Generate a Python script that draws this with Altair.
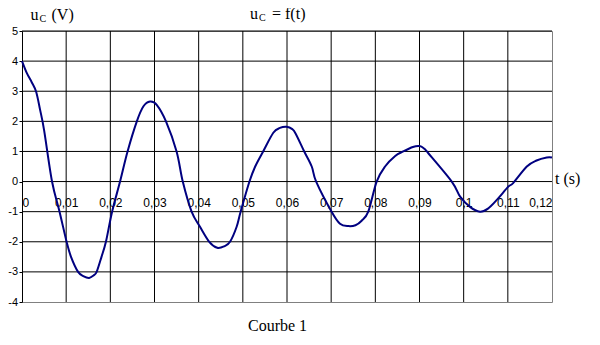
import altair as alt
import pandas as pd

# curve data
t_vals = [0, 0.0011, 0.0022, 0.0032, 0.0041, 0.0050, 0.0068, 0.0085, 0.0101, 0.0111, 0.0127,
          0.0140, 0.0152, 0.0162, 0.0169, 0.0180, 0.0190, 0.0204, 0.0222, 0.0239, 0.0260,
          0.0275, 0.0290, 0.0305, 0.0326, 0.0350, 0.0364, 0.0384, 0.0403, 0.0424, 0.0442,
          0.0458, 0.0471, 0.0486, 0.0495, 0.0515, 0.0528, 0.0546, 0.0569, 0.0584, 0.0599,
          0.0612, 0.0620, 0.0639, 0.0656, 0.0666, 0.0701, 0.0720, 0.0739, 0.0755, 0.0769,
          0.0784, 0.0803, 0.0822, 0.0845, 0.0863, 0.0885, 0.0900, 0.0910, 0.0920, 0.0973,
          0.0992, 0.1015, 0.1037, 0.1055, 0.1075, 0.1101, 0.1112, 0.1143, 0.1165, 0.1188,
          0.1200]
u_vals = [4.0, 3.6, 3.3, 2.98, 2.38, 1.71, 0.0, -1.0, -2.0, -2.5, -3.0,
          -3.15, -3.2, -3.12, -3.0, -2.5, -2.0, -1.0, 0.0, 1.0, 2.0,
          2.5, 2.66, 2.55, 2.0, 1.0, 0.0, -1.0, -1.5, -2.0, -2.2,
          -2.15, -2.0, -1.5, -1.0, 0.0, 0.5, 1.0, 1.62, 1.78, 1.82,
          1.74, 1.58, 1.0, 0.5, 0.0, -1.0, -1.4, -1.48, -1.45, -1.3,
          -1.0, 0.0, 0.5, 0.85, 1.0, 1.15, 1.18, 1.1, 0.94, 0.0,
          -0.5, -0.85, -1.0, -0.9, -0.61, -0.17, -0.05, 0.5, 0.7, 0.8,
          0.8]

x_ticks = [0, 0.01, 0.02, 0.03, 0.04, 0.05, 0.06, 0.07, 0.08, 0.09, 0.1, 0.11, 0.12]
y_ticks = [-4, -3, -2, -1, 0, 1, 2, 3, 4, 5]
x_grid = [0.01, 0.02, 0.03, 0.04, 0.05, 0.06, 0.07, 0.08, 0.09, 0.1, 0.11]
y_grid = [-3, -2, -1, 0, 1, 2, 3, 4, 5]

W, H = 530, 271
xs = alt.Scale(domain=[0, 0.12], nice=False, zero=False)
ys = alt.Scale(domain=[-4, 5], nice=False, zero=False)

x_axis = alt.Axis(values=x_ticks, labelExpr="replace(format(datum.value, '~g'), '.', ',')",
                  offset=-120.5, domain=False, ticks=False, grid=False, labelPadding=16,
                  title=None, labelFont="Liberation Sans", labelFontSize=12,
                  labelColor="black", labelOverlap=False)
y_axis = alt.Axis(values=y_ticks, domain=True, domainColor="black", ticks=True,
                  tickColor="black", tickSize=3, labelPadding=1.5, grid=False, title=None,
                  labelExpr="datum.value < 0 ? '-' + abs(datum.value) : '' + datum.value",
                  labelFont="Liberation Sans", labelFontSize=11, labelColor="black")

curve = pd.DataFrame({"t": t_vals, "u": u_vals})

vgrid = alt.Chart(pd.DataFrame({"t": x_grid})).mark_rule(color="black", strokeWidth=1).encode(
    x=alt.X("t:Q", scale=xs, axis=x_axis))
hgrid = alt.Chart(pd.DataFrame({"u": y_grid})).mark_rule(color="black", strokeWidth=1).encode(
    y=alt.Y("u:Q", scale=ys, axis=y_axis))

line = alt.Chart(curve).mark_line(color="#000080", strokeWidth=2, interpolate="cardinal").encode(
    x=alt.X("t:Q", scale=xs, axis=x_axis),
    y=alt.Y("u:Q", scale=ys, axis=y_axis),
)


def txt(s, x, y, size=16):
    return alt.Chart(pd.DataFrame({"s": [s]})).mark_text(
        font="Liberation Serif", fontSize=size, align="left", baseline="alphabetic", color="black"
    ).encode(text="s:N", x=alt.value(x), y=alt.value(y))


texts = [
    txt("u", 8.5, -11),
    txt("C", 17.5, -9, 10),
    txt("(V)", 29.5, -11),
    txt("u", 228, -12),
    txt("C", 237, -10, 10),
    txt("= f(t)", 250, -12),
    txt("t (s)", 533, 153),
    txt("Courbe 1", 226, 300),
]

chart = alt.layer(vgrid, hgrid, line, *texts).properties(
    width=W, height=H,
    autosize=alt.AutoSizeParams(type="none"),
    padding={"left": 14, "top": 23, "right": 40, "bottom": 35},
).configure_view(stroke="#808080", strokeWidth=1)

chart.save("out.html", embed_options={"renderer": "svg", "actions": False})
